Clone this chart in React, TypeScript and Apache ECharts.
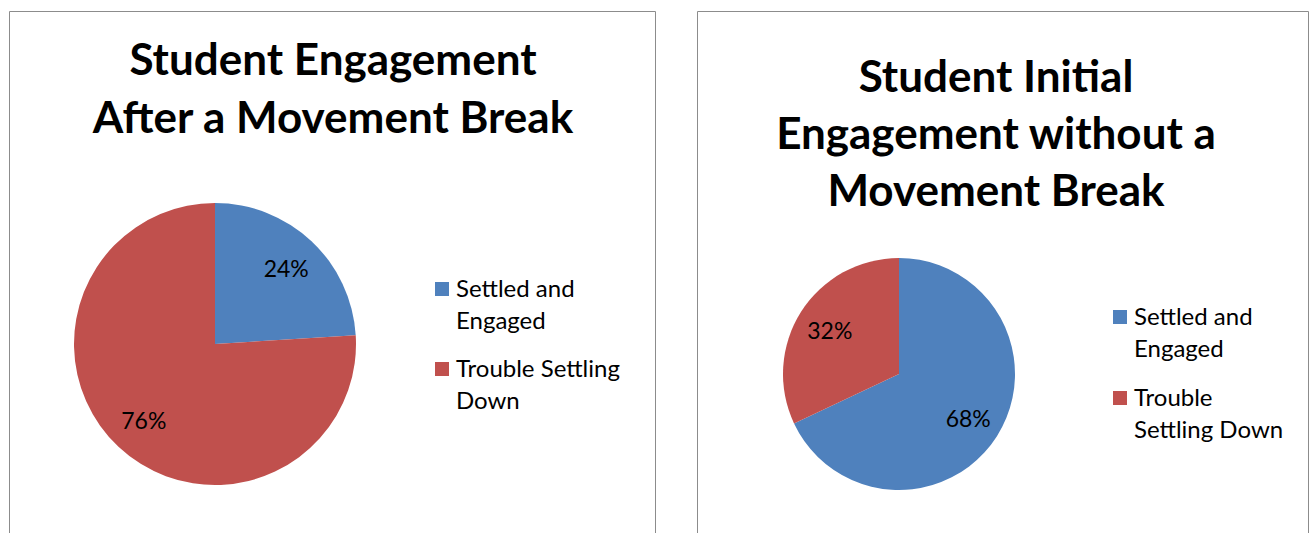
import React, { useEffect, useRef } from "react";
import * as echarts from "echarts";

const categories = ["Settled and Engaged", "Trouble Settling Down"];
const afterBreakValues = [24, 76];
const withoutBreakValues = [68, 32];
const sliceColors = ["#4F81BD", "#C0504D"];
const leftTitle = "Student Engagement\nAfter a Movement Break";
const rightTitle = "Student Initial\nEngagement without a\nMovement Break";
const leftLegendLabels = ["Settled and\nEngaged", "Trouble Settling\nDown"];
const rightLegendLabels = ["Settled and\nEngaged", "Trouble\nSettling Down"];

const FONT = "Lato, 'Open Sans', sans-serif";

function legendGraphics(x: number, ys: number[], labels: string[]) {
  const els: any[] = [];
  labels.forEach((lab, i) => {
    els.push({
      type: "rect",
      shape: { x, y: ys[i] - 7, width: 14, height: 14 },
      style: { fill: sliceColors[i] },
      silent: true,
    });
    els.push({
      type: "text",
      x: x + 21,
      y: ys[i] - 18,
      style: {
        text: lab,
        font: `24px ${FONT}`,
        fill: "#000",
        lineHeight: 32,
        verticalAlign: "top",
        align: "left",
      },
      silent: true,
    });
  });
  return els;
}

function pieSeries(values: number[], center: number[], r: number, labelR: number) {
  const data = categories.map((name, i) => ({ name, value: values[i], itemStyle: { color: sliceColors[i] } }));
  return [
    {
      type: "pie",
      center,
      radius: [0, r],
      startAngle: 90,
      clockwise: true,
      data,
      label: { show: false },
      labelLine: { show: false },
      silent: true,
      itemStyle: { borderWidth: 0 },
    },
    {
      type: "pie",
      center,
      radius: [0, labelR * 2],
      startAngle: 90,
      clockwise: true,
      data: data.map((d) => ({ ...d, itemStyle: { color: "rgba(0,0,0,0)" } })),
      label: {
        show: true,
        position: "inside",
        formatter: "{d}%",
        fontFamily: FONT,
        fontSize: 23,
        color: "#000",
      },
      labelLine: { show: false },
      silent: true,
      z: 3,
    },
  ];
}

export default function App() {
  const ref = useRef<HTMLDivElement>(null);
  useEffect(() => {
    if (!ref.current) return;
    const chart = echarts.init(ref.current, null, { renderer: "svg" });
    chart.setOption({
      animation: false,
      backgroundColor: "#fff",
      title: [
        {
          text: leftTitle,
          left: 333,
          top: 29,
          padding: 0,
          textAlign: "center",
          textStyle: { fontFamily: FONT, fontSize: 44, fontWeight: "bold", lineHeight: 58, color: "#000" },
        },
        {
          text: rightTitle,
          left: 996,
          top: 46,
          padding: 0,
          textAlign: "center",
          textStyle: { fontFamily: FONT, fontSize: 44, fontWeight: "bold", lineHeight: 57, color: "#000" },
        },
      ],
      graphic: [
        {
          type: "rect",
          shape: { x: 9.5, y: 11.5, width: 646, height: 540 },
          style: { fill: "none", stroke: "#8c8c8c", lineWidth: 1 },
          silent: true,
          z: -1,
        },
        {
          type: "rect",
          shape: { x: 697.5, y: 11.5, width: 611, height: 540 },
          style: { fill: "none", stroke: "#8c8c8c", lineWidth: 1 },
          silent: true,
          z: -1,
        },
        ...legendGraphics(435, [289, 369], leftLegendLabels),
        ...legendGraphics(1113, [317, 398], rightLegendLabels),
      ],
      series: [
        ...pieSeries(afterBreakValues, [215, 344], 141, 101),
        ...pieSeries(withoutBreakValues, [899, 374], 116, 79),
      ],
    });
    return () => chart.dispose();
  }, []);
  return (
    <div
      ref={ref}
      style={{ position: "absolute", left: 0, top: 0, width: 1314, height: 533 }}
    />
  );
}
